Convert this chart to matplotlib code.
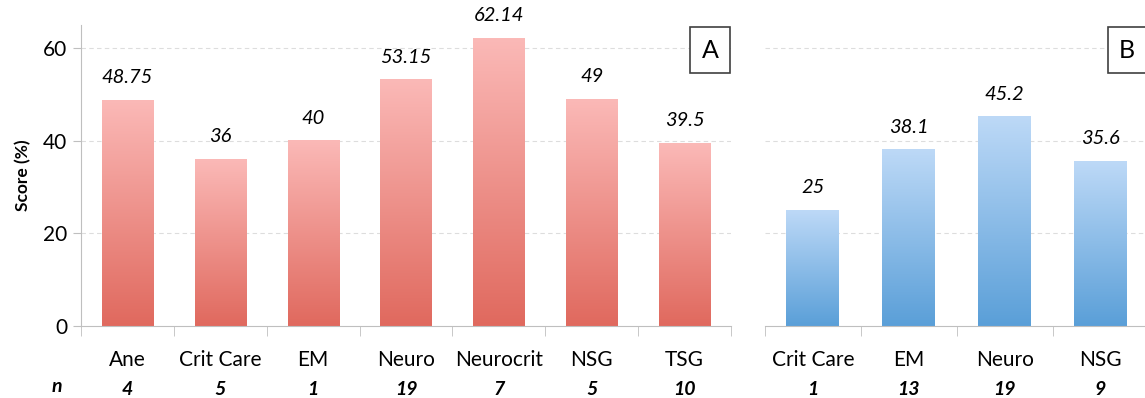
import numpy as np
import matplotlib.pyplot as plt
from matplotlib.colors import LinearSegmentedColormap

# panel A data
cats_a = ["Ane", "Crit Care", "EM", "Neuro", "Neurocrit", "NSG", "TSG"]
vals_a = [48.75, 36, 40, 53.15, 62.14, 49, 39.5]
labels_a = ["48.75", "36", "40", "53.15", "62.14", "49", "39.5"]
n_a = [4, 5, 1, 19, 7, 5, 10]

# panel B data
cats_b = ["Crit Care", "EM", "Neuro", "NSG"]
vals_b = [25, 38.1, 45.2, 35.6]
labels_b = ["25", "38.1", "45.2", "35.6"]
n_b = [1, 13, 19, 9]

plt.rcParams['font.family'] = ['Lato', 'DejaVu Sans']

red_cm = LinearSegmentedColormap.from_list("r", ["#E0695E", "#FBB9B7"])
blue_cm = LinearSegmentedColormap.from_list("b", ["#5A9FD8", "#BDD9F7"])

fig = plt.figure(figsize=(11.45, 3.98), dpi=100)
ax1 = fig.add_axes([0.0707, 0.181, 0.5677, 0.756])
ax2 = fig.add_axes([0.668, 0.181, 0.335, 0.756])

grad = np.linspace(0, 1, 256).reshape(-1, 1)


def draw_panel(ax, cats, vals, labels, ns, cmap, show_y):
    x = np.arange(len(cats))
    w = 0.55
    for xi, v, lab in zip(x, vals, labels):
        ax.imshow(grad, extent=[xi - w / 2, xi + w / 2, 0, v], origin="lower",
                  cmap=cmap, aspect="auto", zorder=2)
        ax.text(xi, v + 3, lab, ha="center", va="bottom", fontsize=14.5,
                style="italic", color="black")
    ax.set_xlim(-0.5, len(cats) - 0.5)
    ax.set_ylim(0, 65)
    for gy in [20, 40, 60]:
        ax.axhline(gy, color="#DDDDDD", lw=0.8, ls=(0, (4, 3)), zorder=1)
    ax.set_xticks(x)
    ax.set_xticklabels(cats, fontsize=15)
    ax.set_xticks(np.arange(len(cats) + 1) - 0.5, minor=True)
    ax.tick_params(axis="x", which="major", length=0, pad=17)
    ax.tick_params(axis="x", which="minor", length=7, color="#BFBFBF")
    for xi, nv in zip(x, ns):
        ax.text(xi, -0.21, str(nv), transform=ax.get_xaxis_transform(),
                ha="center", va="center", fontsize=14, fontweight="bold",
                style="italic")
    for s in ["top", "right"]:
        ax.spines[s].set_visible(False)
    ax.spines["bottom"].set_color("#BFBFBF")
    if show_y:
        ax.spines["left"].set_color("#BFBFBF")
        ax.set_yticks([0, 20, 40, 60])
        ax.tick_params(axis="y", length=6, color="#BFBFBF", labelsize=15, pad=4)
        ax.set_ylabel("Score (%)", fontsize=12.5, fontweight="bold", labelpad=8)
    else:
        ax.spines["left"].set_visible(False)
        ax.set_yticks([])


draw_panel(ax1, cats_a, vals_a, labels_a, n_a, red_cm, True)
draw_panel(ax2, cats_b, vals_b, labels_b, n_b, blue_cm, False)

fig.text(57 / 1145, 1 - 386 / 398, "n", fontsize=14, fontweight="bold",
         style="italic", ha="center", va="center")

# panel letters in boxes
fig.text(710 / 1145, 1 - 50 / 398, "A", fontsize=18, ha="center", va="center",
         bbox=dict(boxstyle="square,pad=0.45", fc="white", ec="#404040", lw=1.2))
fig.text(1127 / 1145, 1 - 50 / 398, "B", fontsize=18, ha="center", va="center",
         bbox=dict(boxstyle="square,pad=0.45", fc="white", ec="#404040", lw=1.2))

fig.savefig("out.png", dpi=100)
